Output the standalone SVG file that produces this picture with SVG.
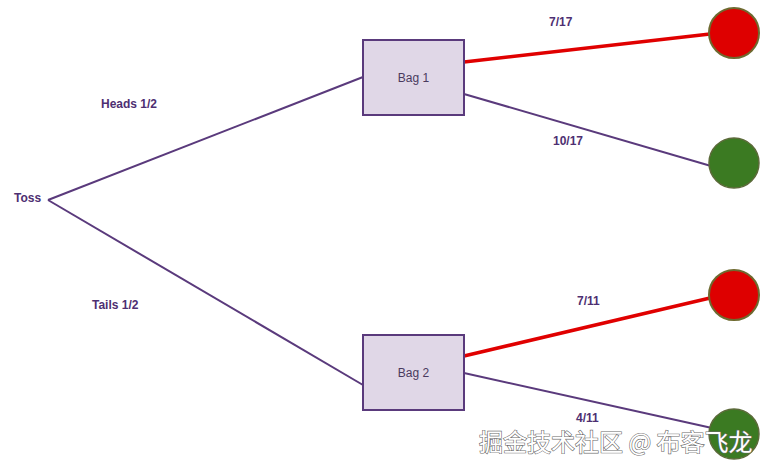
<svg xmlns="http://www.w3.org/2000/svg" width="780" height="472" viewBox="0 0 780 472">
<style>
.lbl{font-family:"Liberation Sans",Arial,sans-serif;font-size:12px;font-weight:bold;fill:#4e2f72}
.bag{fill:#e0d7e7;stroke:#5a3a7c;stroke-width:2}
.bagt{font-family:"Liberation Sans",Arial,sans-serif;font-size:12px;fill:#4a3a5e;text-anchor:middle}
.pl{stroke:#5a3a7c;stroke-width:2;fill:none}
.rl{stroke:#e00000;stroke-width:3.5;fill:none}
.red{fill:#de0000;stroke:#6e6a30;stroke-width:2}
.grn{fill:#3b7a22;stroke:#5c6a3a;stroke-width:1.5}
.wm{font-family:"Noto Sans CJK SC",sans-serif;font-size:24px;fill:#ffffff;stroke:#6a6a6a;stroke-width:1.2;paint-order:stroke}
</style>
<g id="connectors">
<line class="pl" x1="48" y1="200" x2="363" y2="77"/>
<line class="pl" x1="48" y1="200" x2="363" y2="385"/>
<line class="rl" x1="464" y1="62" x2="710" y2="34"/>
<line class="pl" x1="464" y1="94" x2="711" y2="166"/>
<line class="rl" x1="464" y1="356" x2="710" y2="298"/>
<line class="pl" x1="464" y1="373" x2="712" y2="428"/>
</g>
<g id="labels">
<text class="lbl" x="101" y="108">Heads 1/2</text>
<text class="lbl" x="92" y="309">Tails 1/2</text>
<text class="lbl" x="549" y="26">7/17</text>
<text class="lbl" x="553" y="145">10/17</text>
<text class="lbl" x="577" y="305">7/11</text>
<text class="lbl" x="576" y="422">4/11</text>
</g>
<g id="toss"><text class="lbl" x="14" y="202">Toss</text></g>
<g id="bag1"><rect class="bag" x="363" y="40" width="101" height="75"/><text class="bagt" x="413.5" y="82">Bag 1</text></g>
<g id="bag2"><rect class="bag" x="363" y="335" width="101" height="75"/><text class="bagt" x="413.5" y="377">Bag 2</text></g>
<g id="red1"><circle class="red" cx="734" cy="33" r="25"/></g>
<g id="green1"><circle class="grn" cx="734" cy="163" r="25"/></g>
<g id="red2"><circle class="red" cx="734" cy="295" r="25"/></g>
<g id="green2"><circle class="grn" cx="734" cy="434" r="25"/></g>
<text class="wm" x="479" y="451">掘金技术社区 @ 布客飞龙</text>
</svg>
